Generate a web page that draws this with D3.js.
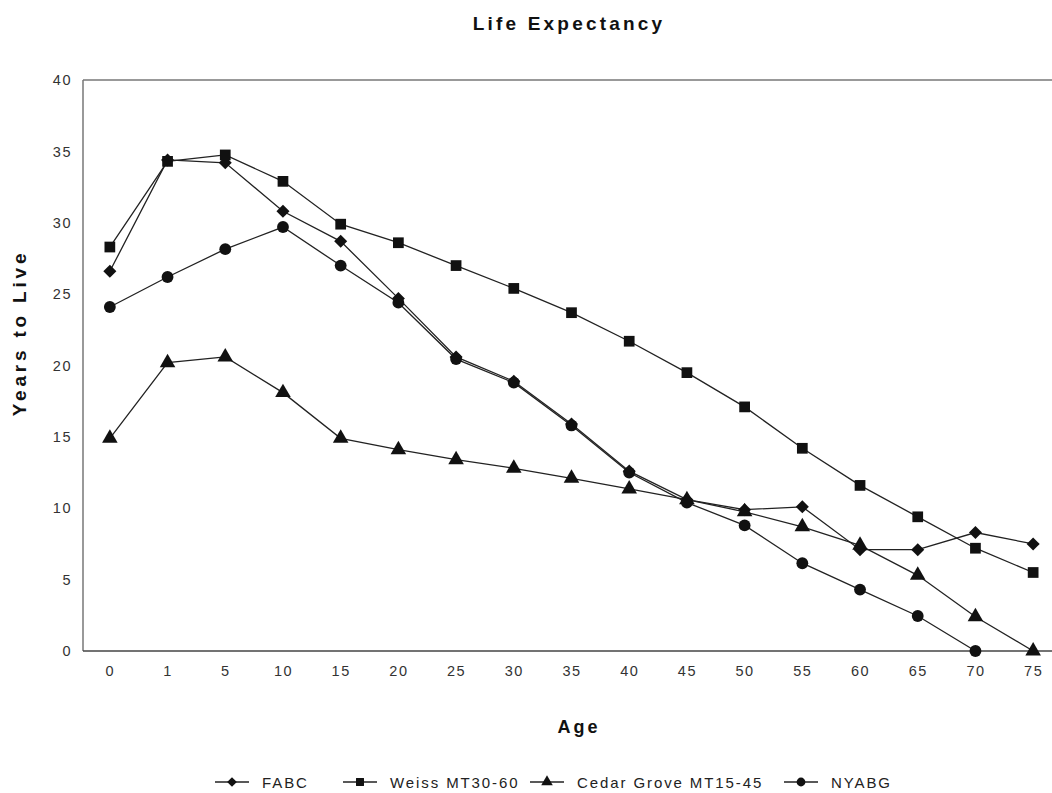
<!DOCTYPE html>
<html>
<head>
<meta charset="utf-8">
<script src="https://cdn.jsdelivr.net/npm/d3@7"></script>
<style>
  html, body { margin: 0; padding: 0; background: #fff; overflow: hidden; }
  svg { display: block; font-family: "Liberation Sans", Arial, sans-serif; }
</style>
</head>
<body>
<svg id="chart" width="1052" height="793"></svg>
<script>
const ages = ["0","1","5","10","15","20","25","30","35","40","45","50","55","60","65","70","75"];
const fabc   = [26.6,34.4,34.2,30.8,28.7,24.7,20.6,18.9,15.9,12.6,10.6,9.9,10.1,7.1,7.1,8.3,7.5];
const weiss  = [28.3,34.3,34.75,32.9,29.9,28.6,27.0,25.4,23.7,21.7,19.5,17.1,14.2,11.6,9.4,7.2,5.5];
const cedar  = [14.9,20.2,20.6,18.1,14.9,14.1,13.4,12.8,12.1,11.35,10.6,9.75,8.7,7.4,5.3,2.4,0];
const nyabg  = [24.1,26.2,28.15,29.7,27.0,24.4,20.45,18.8,15.8,12.5,10.4,8.8,6.15,4.3,2.45,0,null];
const seriesNames = ["FABC","Weiss MT30-60","Cedar Grove MT15-45","NYABG"];
const seriesValues = [fabc, weiss, cedar, nyabg];
const seriesSymbols = [d3.symbolSquare, d3.symbolSquare, d3.symbolTriangle, d3.symbolCircle];
const symbolRotate = [45, 0, 0, 0];
const symbolSize = [85, 115, 105, 110];
const yTicks = [0,5,10,15,20,25,30,35,40];

const svg = d3.select("#chart");
const plotLeft = 83, plotTop = 80, plotBottom = 651;
const x = d3.scalePoint().domain(ages).range([81, 1062]).padding(0.5);
const y = d3.scaleLinear().domain([0, 40]).range([plotBottom, plotTop]);

// frame
svg.append("line").attr("x1", plotLeft).attr("x2", 1052).attr("y1", plotTop).attr("y2", plotTop)
  .attr("stroke", "#777").attr("stroke-width", 1.5);
svg.append("line").attr("x1", plotLeft).attr("x2", plotLeft).attr("y1", plotTop).attr("y2", plotBottom)
  .attr("stroke", "#777").attr("stroke-width", 1.5);

// axes
const xAxis = svg.append("g").attr("transform", `translate(0,${plotBottom})`)
  .call(d3.axisBottom(x).tickSize(0).tickPadding(15));
xAxis.select(".domain").attr("d", `M${plotLeft},0H1052`).attr("stroke", "#444").attr("stroke-width", 1.5);
xAxis.selectAll("text").attr("font-size", 14.5).attr("fill", "#333")
  .attr("font-family", "Liberation Sans, Arial, sans-serif").attr("letter-spacing", "1.5px");

const yAxis = svg.append("g").attr("transform", `translate(${plotLeft},0)`)
  .call(d3.axisLeft(y).tickValues(yTicks).tickSize(0).tickPadding(11));
yAxis.select(".domain").remove();
yAxis.selectAll("text").attr("font-size", 14.5).attr("fill", "#333")
  .attr("font-family", "Liberation Sans, Arial, sans-serif").attr("letter-spacing", "1.5px");

// series
const line = d3.line().defined(d => d.v !== null).x(d => x(d.a)).y(d => y(d.v));
seriesValues.forEach((vals, i) => {
  const pts = ages.map((a, j) => ({a, v: vals[j]}));
  svg.append("path").datum(pts).attr("d", line)
    .attr("fill", "none").attr("stroke", "#222").attr("stroke-width", 1.3);
  const sym = d3.symbol().type(seriesSymbols[i]).size(symbolSize[i]);
  svg.append("g").selectAll("path").data(pts.filter(d => d.v !== null)).join("path")
    .attr("d", sym)
    .attr("transform", d => `translate(${x(d.a)},${y(d.v)}) rotate(${symbolRotate[i]})`)
    .attr("fill", "#111");
});

// titles
svg.append("text").attr("x", 569).attr("y", 30).attr("text-anchor", "middle")
  .attr("font-size", 19).attr("font-weight", "bold").attr("letter-spacing", "3.2px").attr("fill", "#111")
  .text("Life Expectancy");
svg.append("text").attr("x", 579).attr("y", 733).attr("text-anchor", "middle")
  .attr("font-size", 18).attr("font-weight", "bold").attr("letter-spacing", "3px").attr("fill", "#111")
  .text("Age");
svg.append("text").attr("transform", "translate(26,333) rotate(-90)").attr("text-anchor", "middle")
  .attr("font-size", 19).attr("font-weight", "bold").attr("letter-spacing", "3.8px").attr("fill", "#111")
  .text("Years to Live");

// legend
const legendX = [215, 343, 530, 784];
const lg = svg.append("g").attr("transform", "translate(0,782)");
seriesNames.forEach((name, i) => {
  const g = lg.append("g").attr("transform", `translate(${legendX[i]},0)`);
  g.append("line").attr("x1", 0).attr("x2", 34).attr("y1", 0).attr("y2", 0).attr("stroke", "#222").attr("stroke-width", 1.3);
  g.append("path").attr("d", d3.symbol().type(seriesSymbols[i]).size(symbolSize[i] * 0.55))
    .attr("transform", `translate(17,0) rotate(${symbolRotate[i]})`).attr("fill", "#111");
  g.append("text").attr("x", 47).attr("y", 5.5).attr("font-size", 15).attr("letter-spacing", "1.9px").attr("fill", "#222").text(name);
});
</script>
</body>
</html>
